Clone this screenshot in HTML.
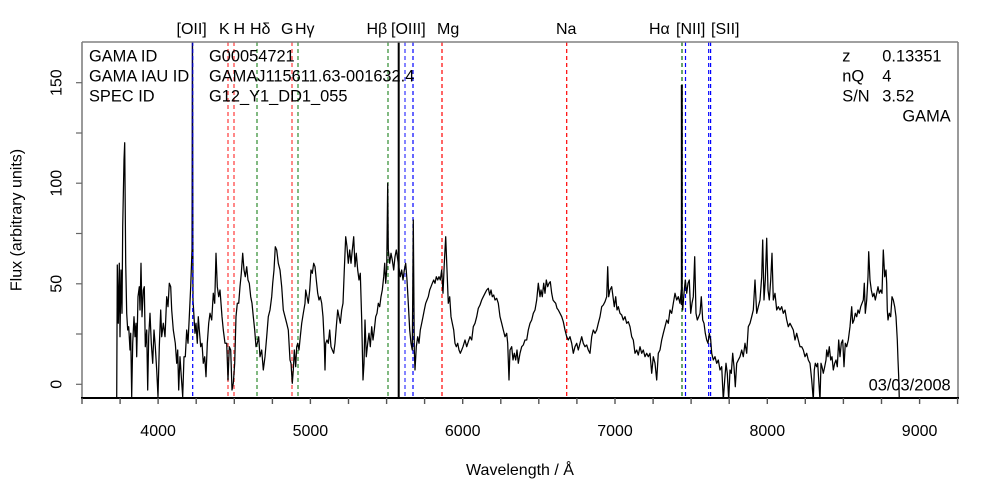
<!DOCTYPE html>
<html><head><meta charset="utf-8"><style>
html,body{margin:0;padding:0;background:#fff;}
svg{display:block;font-family:"Liberation Sans",Arial,sans-serif;}
</style></head><body>
<svg width="1000" height="500" viewBox="0 0 1000 500" xmlns="http://www.w3.org/2000/svg">
<defs><clipPath id="c"><rect x="82" y="42" width="876" height="356"/></clipPath></defs>
<rect width="1000" height="500" fill="#fff"/>

<g clip-path="url(#c)" fill="none" stroke-dasharray="4,3">
<line x1="228" y1="42" x2="228" y2="398" stroke="#ff6b6b" stroke-width="1.6"/>
<line x1="234" y1="42" x2="234" y2="398" stroke="#ff6b6b" stroke-width="1.6"/>
<line x1="257" y1="42" x2="257" y2="398" stroke="#2e8b2e" stroke-width="1.2"/>
<line x1="292" y1="42" x2="292" y2="398" stroke="#ff6b6b" stroke-width="1.6"/>
<line x1="298" y1="42" x2="298" y2="398" stroke="#2e8b2e" stroke-width="1.2"/>
<line x1="388" y1="42" x2="388" y2="398" stroke="#2e8b2e" stroke-width="1.2"/>
<line x1="405" y1="42" x2="405" y2="398" stroke="#6666ff" stroke-width="1.6"/>
<line x1="413" y1="42" x2="413" y2="398" stroke="#0000ff" stroke-width="1.2"/>
<line x1="442" y1="42" x2="442" y2="398" stroke="#ff0000" stroke-width="1.2"/>
<line x1="566.7" y1="42" x2="566.7" y2="398" stroke="#ff0000" stroke-width="1.2"/>
<line x1="682" y1="42" x2="682" y2="398" stroke="#5a9a5a" stroke-width="1.8"/>
<line x1="685.5" y1="42" x2="685.5" y2="398" stroke="#0000ff" stroke-width="1.2"/>
<line x1="708.7" y1="42" x2="708.7" y2="398" stroke="#0000ff" stroke-width="1.2"/>
<line x1="710.6" y1="42" x2="710.6" y2="398" stroke="#0000ff" stroke-width="1.2"/>
</g>

<g clip-path="url(#c)" fill="none" stroke="#000" stroke-width="1.25" stroke-linejoin="round">
<polyline points="116.7,400 117.3,265 118.3,323.3 119.3,263.3 120,336.7 121,270 122,313.3 122.7,226.7 124,160 124.7,142.7 125.7,263.3 126.7,313.3 127.7,330 128.7,326.7 130,350 130.7,333.3 131.7,396.7 132.7,343.3 134,316.7 135,336.7 136,323.3 136.7,356.7 138,296.7 139.3,286.7 140,310 141,263.3 142,316.7 143.3,290 144.3,286.7 145.3,346.7 146.7,330 147.7,390 148.7,336.7 150,313.3 151.3,343.3 152.7,363.3 154,330 155.3,346.7 156.7,370 158,396.7 159.3,346.7 160.7,310 161.7,336.7 163.3,323.3 165,336.7 166.7,296.7 168,306.7 169.3,283.3 170.7,286.7 171.7,310 173.3,330 174.3,336.7 175.3,343.3 176.7,363.3 177.7,350 178.7,390 180,356.7 181.3,376.7 182.7,396.7 184,356.7 185.3,356.7 186.7,330 188,343.3 189.3,316.7 190.7,286.7 192,250 192.5,30 193,300 194,316.7 195,333.3 196,323.3 197.3,343.3 198.3,316.7 199.3,330 200.7,346.7 202,343.3 203.3,363.3 204.7,356.7 206,376.7 207.3,343.3 208.7,323.3 210,313.3 211.7,320 213.3,293.3 214.7,303.3 216,253.3 217.3,286.7 218.7,296.7 220,290 222,316.7 223.3,330 225,343.3 226.7,343.3 228,380 229.3,346.7 230.7,350 232,390 233.3,383.3 234.7,363.3 236,316.7 237.3,303.3 238.7,303.3 240,286.7 241.3,273.3 242.7,253.3 244,270 245.3,276.7 246.7,266.7 248,280 249.3,283.3 250.7,296.7 252,303.3 253.3,316.7 254.7,330 256,346.7 257.3,343.3 258.7,336.7 260,356.7 261.7,350 263.3,370 265,356.7 266.7,336.7 268.3,316.7 270,310 271.7,296.7 272.7,283.3 274,270 275.3,246.7 276.7,250 278.3,263.3 280,270 281.7,286.7 283.3,310 285,316.7 286.7,323.3 288.3,330 290,360 291,363.3 292.3,383.3 293.3,370 294.3,350 295.7,366.7 296.7,346.7 297.7,343.3 299,350 300.3,336.7 301.7,323.3 303.3,313.3 305,303.3 305.7,290 307,296.7 308.3,303.3 309.7,290 311,270 312.3,273.3 313.7,263.3 315,266.7 316.3,280 317.7,293.3 319,300 320.3,296.7 321.7,303.3 323,316.7 324.3,343.3 325,370 325.7,343.3 327,340 328.3,343.3 329.7,330 331,346.7 332.3,350 333.7,353.3 335,343.3 336.3,326.7 337.7,310 339,316.7 340.3,323.3 341.7,310 343,303.3 344.3,270 345.7,236.7 347,246.7 348.3,263.3 349.7,250 351,263.3 352.3,250 353.7,236.7 355,266.7 356.3,253.3 357.7,270 359,280 360.3,273.3 361.7,320 363,380 364,363.3 365,320 366.3,356.7 367.7,343.3 369,333.3 370.3,346.7 371.7,326.7 373,340 374.3,330 375.7,316.7 377,313.3 378.3,303.3 379.7,306.7 381,296.7 382.3,290 383.7,276.7 384.7,263.3 385.7,283.3 386.7,270 387.7,183.3 388.3,250 389.7,263.3 391,253.3 392.3,260 393.7,270 395,256.7 396.3,250 397.3,256.7 400.3,276.7 401.7,270 403,280 404.3,270 405.7,263.3 407,280 408.3,303.3 409.7,330 411,343.3 412.3,350 413.3,220 414.3,350 415,370 416.3,346.7 417.7,336.7 419,343.3 420.3,330 421.7,323.3 423,316.7 424.3,310 425.7,303.3 427,300 428.3,296.7 429.7,290 431,286.7 432.3,283.3 433.7,280 435,283.3 436.3,276.7 437.7,280 439,276.7 440.3,280 441.7,270 443,293.3 444.3,263.3 445.7,236.7 447,270 448.3,303.3 449.7,296.7 451,316.7 452.3,323.3 453.7,330 455,343.3 456.3,346.7 457.7,343.3 459,350 460.3,353.3 461.7,350 463,346.7 465,340 466.7,346.7 468.3,341.7 470,336.7 471.7,340 473.3,326.7 475,323.3 476.7,316.7 478.3,308.3 480,305 481.7,300 483.3,296.7 485,293.3 486.7,290 488.3,288.3 489.7,295 491,290 492.3,296.7 493.7,295 495,300 496.7,298.3 498.3,303.3 500,316.7 501.7,323.3 503.3,330 505,336.7 506.7,333.3 507.7,343.3 509,380 510,350 511.7,346.7 513,360 514.3,353.3 515.7,360 517,350 518.3,363.3 520,353.3 521.7,346.7 523.3,345 525,340 526.7,340 528.3,330 530,323.3 531.7,320 533.3,313.3 535,310 536.7,300 538.3,283.3 540,296.7 541,290 542.3,296.7 543.7,283.3 545,293.3 546.3,280 547.7,286.7 549,283.3 550.3,281.7 551.7,293.3 553,300 554.3,301.7 555.7,303.3 557,308.3 558.3,310 560,313.3 561.7,316.7 563.3,321.7 565,330 566.7,336.7 568.3,340 570,336.7 571.7,343.3 573.3,353.3 575,346.7 576.7,343.3 578.3,350 580,343.3 581.7,336.7 583.3,343.3 585,346.7 586.7,345 588.3,350 590,353.3 591.7,336.7 593.3,330 595,333.3 596.7,330 598.3,323.3 600,316.7 601.7,306.7 603.3,305 605,301.7 606.7,296.7 607.7,266.7 608.7,296.7 610,290 611.7,286.7 613,296.7 614.3,306.7 615.7,296.7 617,310 618.3,306.7 620,313.3 621.7,315 623.3,320 625,316.7 626.7,323.3 628.3,321.7 630,326.7 631.7,336.7 633.3,340 635,353.3 636.7,350 638.3,355 640,346.7 641.7,353.3 643.3,350 645,356.7 646.7,353.3 648.3,356.7 650,353.3 651.7,373.3 653.3,356.7 655,363.3 656.7,380 658.3,353.3 660,350 661.7,340 663.3,333.3 665,326.7 666.7,320 668.3,323.3 670,310 671.7,313.3 673.3,303.3 675,293.3 676.7,300 678.3,296.7 680,303.3 681.3,290 682.7,310 684,293.3 685.3,280 686.7,293.3 688,283.3 689.3,280 690.7,313.3 692,303.3 693.3,296.7 694.7,256.7 696,313.3 697.3,320 698.7,316.7 700,313.3 701.3,296.7 702.7,320 704,323.3 705.3,333.3 706.7,340 708,343.3 709.3,333.3 710.7,340 711.7,353.3 713.3,360 715,356.7 716.7,363.3 718.3,360 720,370 721.7,366.7 723.3,400 724.7,380 726,363.3 727.3,373.3 728.7,400 730,370 731.3,373.3 732.7,353.3 734,366.7 735.3,386.7 736.7,363.3 738.3,360 740,356.7 741.7,350 743.3,356.7 745,343.3 746.7,353.3 748.3,326.7 750,323.3 751.7,316.7 753.3,310 755,280 756.7,313.3 758.3,306.7 760,300 761.7,276.7 762.7,240 764,300 765.3,280 766.7,238.3 768,290 769.3,300 770.7,280 772,253.3 773.3,300 775,293.3 776.7,310 778.3,306.7 780,310 781.7,306.7 783.3,313.3 785,310 786.7,320 788.3,326.7 790,323.3 791.7,326.7 793.3,330 795,340 796.7,333.3 798.3,340 800,346.7 801.7,346.7 803.3,350 805,356.7 806.7,353.3 808.3,360 810,363.3 811.7,380 813.3,400 814.3,370 815.3,363.3 816.7,366.7 817.7,363.3 818.7,380 820,400 821,363.3 822,366.7 823.3,373.3 824.7,366.7 826,360 826.7,350 828,356.7 829.3,346.7 830.7,360 832,356.7 833.3,370 834.7,363.3 836,360 837.3,366.7 838.7,340 840,356.7 841.3,343.3 842.7,340 844,366.7 845.3,343.3 846.7,346.7 848.3,340 850,326.7 851.7,306.7 852.7,323.3 854,320 855.3,313.3 856.7,316.7 858,310 859.3,313.3 860.7,306.7 862,303.3 863.3,300 864.3,283.3 865.3,313.3 866.7,300 868,276.7 868.7,251.7 870,280 871.3,290 872.7,296.7 874,293.3 875.3,300 876.7,293.3 878,286.7 879.3,293.3 880.7,290 882,293.3 883.3,250 884.7,276.7 886,270 886.7,283.3 887.3,310 888,320 889.3,313.3 890.7,316.7 892,296.7 893.3,300 894.7,306.7 896,316.7 897.3,340 898,360 898.7,376.7 899.3,400"/>
<line x1="681.8" y1="85" x2="681.8" y2="305" stroke="#000" stroke-width="2"/>
<line x1="398.7" y1="42" x2="398.7" y2="398" stroke="#000" stroke-width="2"/>
</g>
<line x1="192.7" y1="42" x2="192.7" y2="398" stroke="#0000ff" stroke-width="1.2" stroke-dasharray="4,3"/>
<line x1="192.2" y1="42" x2="192.2" y2="250" stroke="#00007a" stroke-width="0.8"/>

<g stroke="#808080" stroke-width="1.6" fill="none">
<line x1="82" y1="42" x2="958" y2="42"/>
<line x1="82" y1="42" x2="82" y2="398"/>
<line x1="958" y1="42" x2="958" y2="398"/>
</g>
<line x1="81" y1="398" x2="959" y2="398" stroke="#000" stroke-width="2"/>

<g stroke="#555" stroke-width="1.4">
<line x1="82" y1="398" x2="82" y2="404"/><line x1="120.1" y1="398" x2="120.1" y2="404"/><line x1="158.1" y1="398" x2="158.1" y2="404"/><line x1="196.2" y1="398" x2="196.2" y2="404"/><line x1="234.3" y1="398" x2="234.3" y2="404"/><line x1="272.4" y1="398" x2="272.4" y2="404"/><line x1="310.4" y1="398" x2="310.4" y2="404"/><line x1="348.5" y1="398" x2="348.5" y2="404"/><line x1="386.6" y1="398" x2="386.6" y2="404"/><line x1="424.6" y1="398" x2="424.6" y2="404"/><line x1="462.7" y1="398" x2="462.7" y2="404"/><line x1="500.8" y1="398" x2="500.8" y2="404"/><line x1="538.8" y1="398" x2="538.8" y2="404"/><line x1="576.9" y1="398" x2="576.9" y2="404"/><line x1="615" y1="398" x2="615" y2="404"/><line x1="653.1" y1="398" x2="653.1" y2="404"/><line x1="691.1" y1="398" x2="691.1" y2="404"/><line x1="729.2" y1="398" x2="729.2" y2="404"/><line x1="767.3" y1="398" x2="767.3" y2="404"/><line x1="805.3" y1="398" x2="805.3" y2="404"/><line x1="843.4" y1="398" x2="843.4" y2="404"/><line x1="881.5" y1="398" x2="881.5" y2="404"/><line x1="919.6" y1="398" x2="919.6" y2="404"/><line x1="957.6" y1="398" x2="957.6" y2="404"/>
</g>
<g stroke="#666" stroke-width="1.2">
<line x1="76" y1="384.3" x2="82" y2="384.3"/><line x1="76" y1="334" x2="82" y2="334"/><line x1="76" y1="283.8" x2="82" y2="283.8"/><line x1="76" y1="233.5" x2="82" y2="233.5"/><line x1="76" y1="183.2" x2="82" y2="183.2"/><line x1="76" y1="133" x2="82" y2="133"/><line x1="76" y1="82.7" x2="82" y2="82.7"/>
</g>

<g font-size="16" fill="#000">
<g text-anchor="middle">
<text x="158.1" y="436">4000</text>
<text x="310.4" y="436">5000</text>
<text x="462.7" y="436">6000</text>
<text x="615" y="436">7000</text>
<text x="767.3" y="436">8000</text>
<text x="919.6" y="436">9000</text>
<text x="520" y="475">Wavelength / Å</text>
</g>
<g text-anchor="middle">
<text transform="translate(61.5,384.3) rotate(-90)">0</text>
<text transform="translate(61.5,283.8) rotate(-90)">50</text>
<text transform="translate(61.5,183.2) rotate(-90)">100</text>
<text transform="translate(61.5,82.7) rotate(-90)">150</text>
<text transform="translate(21.5,220) rotate(-90)">Flux (arbitrary units)</text>
</g>
<text x="176.5" y="34">[OII]</text>
<text x="219" y="34">K</text>
<text x="233.5" y="34">H</text>
<text x="250" y="34">Hδ</text>
<text x="281" y="34">G</text>
<text x="295" y="34">Hγ</text>
<text x="366.5" y="34">Hβ</text>
<text x="391" y="34">[OIII]</text>
<text x="437" y="34">Mg</text>
<text x="556" y="34">Na</text>
<text x="649" y="34">Hα</text>
<text x="676" y="34">[NII]</text>
<text x="711" y="34">[SII]</text>
<g font-size="16.4">
<text x="89" y="61.7">GAMA ID</text>
<text x="89" y="81.7">GAMA IAU ID</text>
<text x="89" y="101.7">SPEC ID</text>
<text x="209" y="61.7">G00054721</text>
<text x="209" y="81.7">GAMAJ115611.63-001632.4</text>
<text x="209" y="101.7">G12_Y1_DD1_055</text>
<text x="842.3" y="61.7">z</text>
<text x="842.3" y="81.7">nQ</text>
<text x="842.3" y="101.7">S/N</text>
<text x="882.3" y="61.7">0.13351</text>
<text x="882.3" y="81.7">4</text>
<text x="882.3" y="101.7">3.52</text>
<text x="950.7" y="121.7" text-anchor="end">GAMA</text>
<text x="950.7" y="390.7" text-anchor="end">03/03/2008</text>
</g>
</g>
</svg>
</body></html>
